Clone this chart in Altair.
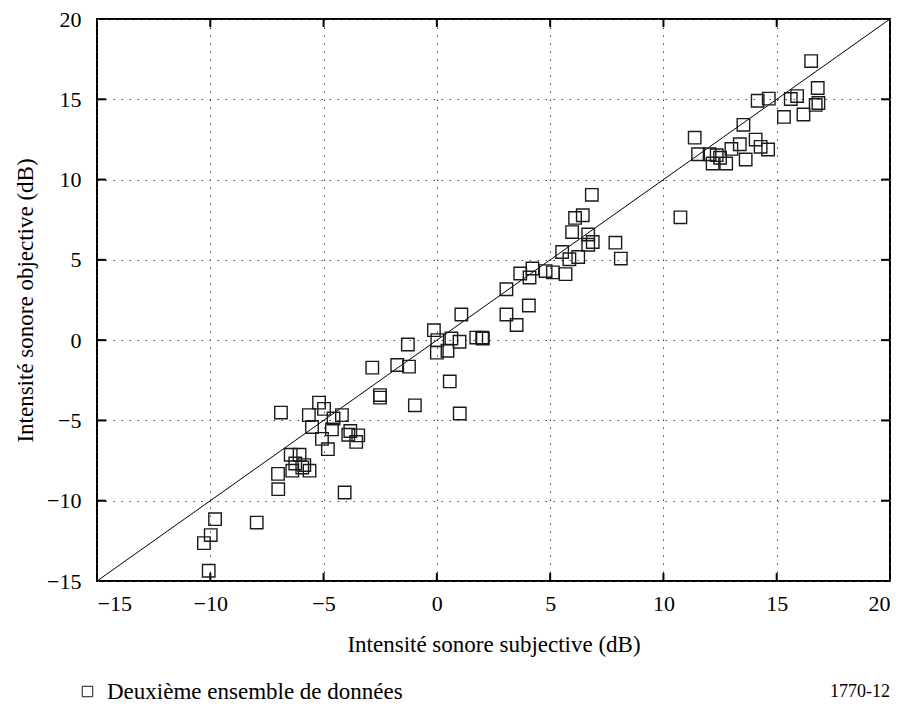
import altair as alt
import pandas as pd

# Data
subj_x = [
    -1.28, -2.85, -1.75, -1.23, -2.51, -2.51, -0.97, -6.88, -5.20, -4.98,
    -5.65, -4.56, -4.19, -5.51, -4.63, -5.07, -4.81, -3.82, -3.91, -3.47,
    -3.56, -4.07, -6.45, -6.06, -6.25, -5.85, -6.38, -5.62, -5.94, -7.01,
    -7.00, -7.95, -9.79, -9.98, -10.28, -10.07,
    6.84, 6.10, 6.44, 5.97, 6.68, 6.88, 6.68, 7.88, 8.12, 5.53,
    5.85, 6.24, 4.22, 3.68, 4.09, 4.80, 5.12, 5.68, 3.07, 4.06,
    3.07, 3.52, 1.08, -0.13, 0.02, 0.64, 1.00, 1.74, 2.03, 2.00,
    0.00, 0.47, 0.57, 1.01,
    16.52, 16.81, 16.84, 16.72, 15.90, 15.62, 16.18, 15.32, 14.65, 14.16,
    13.53, 14.07, 14.29, 14.62, 13.37, 13.00, 13.63, 11.38, 11.53, 12.17,
    12.35, 12.50, 12.77, 12.04, 10.75,
]
obj_y = [
    -0.27, -1.71, -1.55, -1.65, -3.42, -3.58, -4.06, -4.51, -3.89, -4.28,
    -4.67, -4.88, -4.67, -5.41, -5.56, -6.15, -6.79, -5.66, -5.89, -5.93,
    -6.34, -9.49, -7.14, -7.14, -7.68, -7.78, -8.13, -8.13, -7.93, -8.33,
    -9.28, -11.36, -11.15, -12.14, -12.64, -14.36,
    9.05, 7.61, 7.78, 6.73, 6.58, 6.11, 5.94, 6.07, 5.08, 5.49,
    5.04, 5.18, 4.46, 4.15, 3.90, 4.30, 4.22, 4.11, 3.17, 2.16,
    1.60, 0.94, 1.60, 0.62, 0.00, 0.10, -0.10, 0.16, 0.10, 0.16,
    -0.78, -0.66, -2.57, -4.57,
    17.38, 15.70, 14.77, 14.65, 15.20, 15.02, 14.05, 13.90, 15.04, 14.91,
    13.41, 12.49, 12.04, 11.87, 12.20, 11.91, 11.25, 12.61, 11.58, 11.00,
    11.52, 11.36, 11.00, 11.58, 7.65,
]
series_name = "Deuxième ensemble de données"
diag = [-15, 20]
tick_values = [-15, -10, -5, 0, 5, 10, 15, 20]
inner_ticks = [-10, -5, 0, 5, 10, 15]
figure_id = "1770-12"

FONT = "Liberation Serif"
W, H = 793, 562
TOP = 11

df = pd.DataFrame({"x": subj_x, "y": obj_y, "series": series_name})
line_df = pd.DataFrame({"x": diag, "y": diag})
tick_df = pd.DataFrame({"t": inner_ticks})
id_df = pd.DataFrame({"label": [figure_id]})

xscale = alt.Scale(domain=[-15, 20], nice=False, zero=False)
yscale = alt.Scale(domain=[-15, 20], nice=False, zero=False)

common_axis = dict(
    values=tick_values, grid=True, gridDash=[1.5, 6.5], gridColor="#444444",
    gridWidth=1, ticks=False, tickSize=0, domain=False,
    labelFont=FONT, labelFontSize=22, labelColor="black",
    titleFont=FONT, titleFontSize=23, titleFontWeight="normal", titleColor="black",
)
xaxis = alt.Axis(title="Intensité sonore subjective (dB)", labelPadding=12,
                 titlePadding=19, **common_axis)
yaxis = alt.Axis(title="Intensité sonore objective (dB)", labelPadding=16,
                 titlePadding=9, **common_axis)

X = lambda f: alt.X(f, scale=xscale, axis=xaxis)
Y = lambda f: alt.Y(f, scale=yscale, axis=yaxis)

points = alt.Chart(df).mark_point(
    shape="square", filled=False, size=155, strokeWidth=1.4, opacity=1
).encode(
    x=X("x:Q"), y=Y("y:Q"),
    color=alt.Color(
        "series:N", scale=alt.Scale(range=["#1a1a1a"]),
        legend=alt.Legend(
            title=None, orient="none", legendX=-21, legendY=666 - TOP + 6,
            symbolType="square", symbolSize=110, symbolStrokeWidth=1,
            symbolFillColor="white", labelFont=FONT, labelFontSize=23,
            labelColor="black", labelOffset=8, labelLimit=0,
        ),
    ),
)

diag_line = alt.Chart(line_df).mark_line(color="black", strokeWidth=1).encode(
    x=X("x:Q"), y=Y("y:Q")
)

tick_style = dict(color="black", strokeWidth=2)
bottom_ticks = alt.Chart(tick_df).mark_rule(**tick_style).encode(
    x=X("t:Q"), y=alt.value(H), y2=alt.value(H - 8))
top_ticks = alt.Chart(tick_df).mark_rule(**tick_style).encode(
    x=X("t:Q"), y=alt.value(0), y2=alt.value(8))
left_ticks = alt.Chart(tick_df).mark_rule(**tick_style).encode(
    y=Y("t:Q"), x=alt.value(0), x2=alt.value(9))
right_ticks = alt.Chart(tick_df).mark_rule(**tick_style).encode(
    y=Y("t:Q"), x=alt.value(W), x2=alt.value(W - 9))

id_text = alt.Chart(id_df).mark_text(
    font=FONT, fontSize=18, align="right", baseline="middle", color="black"
).encode(text="label:N", x=alt.value(W), y=alt.value(684 - TOP))

chart = alt.layer(
    diag_line, bottom_ticks, top_ticks, left_ticks, right_ticks, points, id_text
).properties(
    width=W, height=H,
    autosize=alt.AutoSizeParams(type="none"),
    padding={"left": 89, "top": TOP, "right": 5, "bottom": 695 - TOP - H},
).configure_view(stroke="black", strokeWidth=2)

chart.save("out.html", embed_options={"renderer": "svg", "actions": False})
